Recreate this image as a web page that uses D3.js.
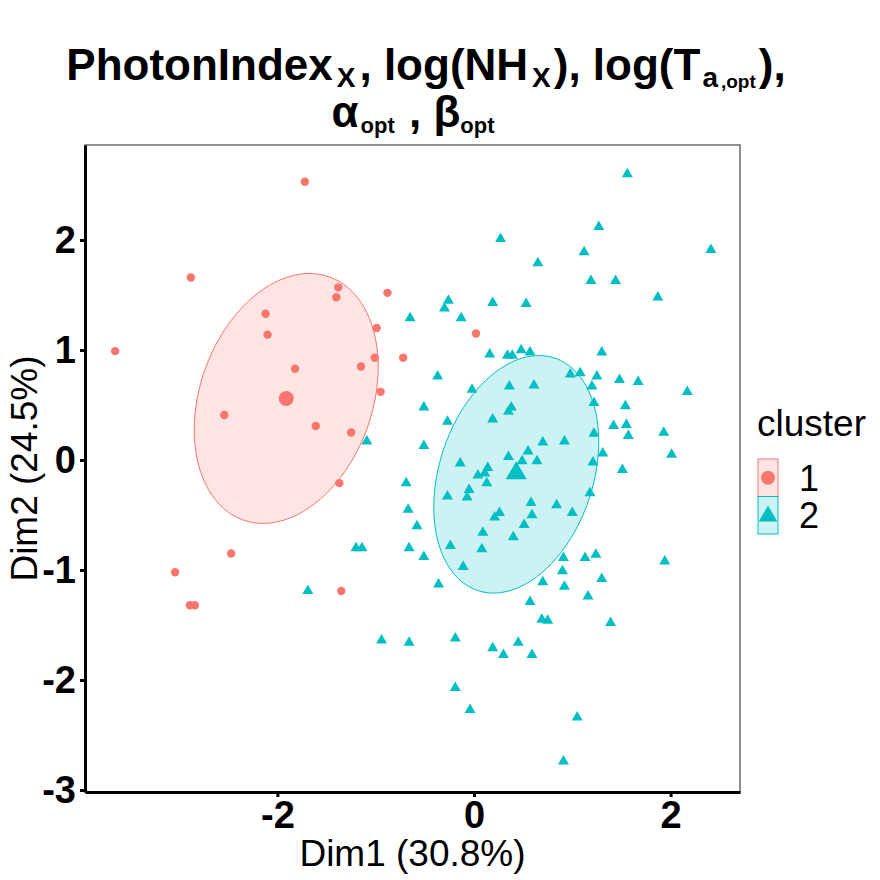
<!doctype html>
<html>
<head>
<script src="https://d3js.org/d3.v7.min.js"></script>
<style>
  body { margin: 0; background: #fff; }
  text { font-family: "Liberation Sans", Arial, Helvetica, sans-serif; }
</style>
</head>
<body>
<svg width="880" height="880"></svg>
<script>
// cluster 1 (red circles), [Dim1, Dim2]
var cluster1 = [
  [-1.72, 2.53], [-2.88, 1.66], [-3.65, 0.99], [-1.38, 1.57], [-1.40, 1.48],
  [-0.88, 1.52], [-2.12, 1.33], [-2.10, 1.14], [-0.99, 1.20], [-1.01, 0.93],
  [-0.72, 0.93], [-1.15, 0.85], [-1.82, 0.83], [-0.95, 0.62], [-2.54, 0.41],
  [-1.61, 0.31], [-1.25, 0.25], [0.02, 1.15], [-1.37, -0.21], [-2.47, -0.85],
  [-3.04, -1.02], [-1.35, -1.19], [-2.89, -1.32], [-2.84, -1.32]
];

// cluster 2 (cyan triangles)
var cluster2 = [
  [1.56, 2.60], [1.27, 2.12], [0.27, 2.01], [2.41, 1.91], [1.12, 1.89],
  [0.65, 1.79], [1.19, 1.63], [1.44, 1.63], [1.87, 1.48], [-0.26, 1.45],
  [-0.30, 1.38], [0.19, 1.43], [0.53, 1.42], [-0.65, 1.29], [-0.13, 1.29],
  [0.16, 0.96], [0.34, 0.95], [0.39, 0.95], [0.48, 1.00], [0.57, 0.98],
  [1.30, 0.98], [-0.37, 0.76], [-0.02, 0.64], [0.36, 0.67], [0.61, 0.68],
  [0.98, 0.78], [1.08, 0.79], [1.25, 0.76], [1.20, 0.67], [1.48, 0.73],
  [1.67, 0.71], [2.17, 0.62], [-0.51, 0.48], [0.38, 0.48], [0.35, 0.44],
  [1.22, 0.52], [1.54, 0.49], [-0.27, 0.35], [0.19, 0.37], [1.42, 0.31],
  [1.55, 0.32], [1.57, 0.22], [1.93, 0.25], [-0.51, 0.13], [0.70, 0.16],
  [0.92, 0.17], [1.22, 0.24], [1.31, 0.06], [2.01, 0.05], [0.55, 0.08],
  [0.35, 0.03], [0.49, -0.01], [0.64, -0.01], [-0.14, -0.03], [0.14, -0.07],
  [1.21, -0.02], [1.51, -0.09], [-1.09, 0.17], [-0.69, -0.21], [-0.67, -0.45],
  [-1.20, -0.80], [-1.14, -0.80], [-0.66, -0.80], [-1.69, -1.19], [-0.94, -1.64],
  [-0.66, -1.66], [0.04, -0.14], [0.11, -0.12], [0.13, -0.21], [-0.05, -0.27],
  [-0.07, -0.34], [-0.27, -0.33], [1.18, -0.30], [0.58, -0.39], [0.84, -0.41],
  [1.00, -0.48], [0.26, -0.48], [0.21, -0.52], [0.59, -0.50], [0.51, -0.59],
  [-0.58, -0.60], [0.09, -0.66], [0.40, -0.70], [-0.24, -0.78], [0.08, -0.81],
  [-0.51, -0.88], [0.91, -0.89], [1.13, -0.89], [1.24, -0.86], [1.94, -0.92],
  [-0.11, -0.97], [0.90, -1.01], [1.30, -1.08], [0.70, -1.11], [0.92, -1.15],
  [-0.36, -1.13], [0.57, -1.29], [1.16, -1.24], [0.69, -1.45], [0.75, -1.46],
  [1.39, -1.48], [-0.19, -1.62], [0.19, -1.71], [0.30, -1.77], [0.45, -1.66],
  [0.59, -1.77], [-0.19, -2.07], [-0.04, -2.27], [1.05, -2.34], [0.91, -2.74]
];

// cluster centres and concentration ellipses (covariance in Dim units)
var centres = [[-1.91, 0.56], [0.43, -0.12]];
var ellipses = [
  { cx: -1.91, cy: 0.56, sxx: 0.876, syy: 1.291, sxy: 0.268 },
  { cx: 0.43, cy: -0.13, sxx: 0.704, syy: 1.166, sxy: 0.250 }
];
var clusterNames = ["1", "2"];
var xTicks = [-2, 0, 2];
var yTicks = [-3, -2, -1, 0, 1, 2];
var colors = ["#F8766D", "#00BFC4"];

var svg = d3.select("svg");
var pLeft = 85, pRight = 740, pTop = 145, pBottom = 792;

var x = d3.scaleLinear().domain([-3.957, 2.706]).range([pLeft, pRight]);
var y = d3.scaleLinear().domain([-3.018, 2.864]).range([pBottom, pTop]);

// panel border
svg.append("rect")
  .attr("x", pLeft).attr("y", pTop)
  .attr("width", pRight - pLeft).attr("height", pBottom - pTop)
  .attr("fill", "none").attr("stroke", "#555").attr("stroke-width", 1.3);

// ellipses
function ellipsePts(e) {
  var l11 = Math.sqrt(e.sxx), l21 = e.sxy / l11, l22 = Math.sqrt(e.syy - l21 * l21);
  return d3.range(0, 101).map(function (i) {
    var t = i / 100 * 2 * Math.PI;
    return [e.cx + l11 * Math.cos(t), e.cy + l21 * Math.cos(t) + l22 * Math.sin(t)];
  });
}
var line = d3.line().x(function (d) { return x(d[0]); }).y(function (d) { return y(d[1]); });

svg.append("g").selectAll("path")
  .data(ellipses)
  .enter().append("path")
  .attr("d", function (d) { return line(ellipsePts(d)) + "Z"; })
  .attr("fill", function (d, i) { return colors[i]; })
  .attr("fill-opacity", 0.2)
  .attr("stroke", function (d, i) { return colors[i]; })
  .attr("stroke-width", 1);

// points
svg.append("g").selectAll("circle")
  .data(cluster1)
  .enter().append("circle")
  .attr("cx", function (d) { return x(d[0]); })
  .attr("cy", function (d) { return y(d[1]); })
  .attr("r", 4.2)
  .attr("fill", colors[0]);

var tri = d3.symbol().type(d3.symbolTriangle).size(52);
svg.append("g").selectAll("path")
  .data(cluster2)
  .enter().append("path")
  .attr("d", tri)
  .attr("transform", function (d) { return "translate(" + x(d[0]) + "," + y(d[1]) + ")"; })
  .attr("fill", colors[1]);

// centres
svg.append("circle")
  .attr("cx", x(centres[0][0])).attr("cy", y(centres[0][1]))
  .attr("r", 7.5).attr("fill", colors[0]);
svg.append("path")
  .attr("d", d3.symbol().type(d3.symbolTriangle).size(190))
  .attr("transform", "translate(" + x(centres[1][0]) + "," + y(centres[1][1]) + ")")
  .attr("fill", colors[1]);

// axes
var xAxis = svg.append("g")
  .attr("transform", "translate(0," + pBottom + ")")
  .call(d3.axisBottom(x).tickValues(xTicks).tickSize(5).tickSizeOuter(0).tickPadding(4));
var yAxis = svg.append("g")
  .attr("transform", "translate(" + pLeft + ",0)")
  .call(d3.axisLeft(y).tickValues(yTicks).tickSize(5).tickSizeOuter(0).tickPadding(4));

[xAxis, yAxis].forEach(function (a) {
  a.select(".domain").attr("stroke", "#000").attr("stroke-width", 3);
  a.selectAll(".tick line").attr("stroke", "#000").attr("stroke-width", 3);
  a.selectAll(".tick text")
    .attr("fill", "#000")
    .style("font-size", "38px")
    .style("font-weight", "bold")
    .style("font-family", "'Liberation Sans', Arial, sans-serif")
    .text(function (d) { return d < 0 ? "-" + Math.abs(d) : d; });
});

// axis titles
svg.append("text")
  .attr("x", (pLeft + pRight) / 2).attr("y", 866)
  .attr("text-anchor", "middle")
  .style("font-size", "37px")
  .text("Dim1 (30.8%)");
svg.append("text")
  .attr("transform", "translate(37," + (pTop + pBottom) / 2 + ")rotate(-90)")
  .attr("text-anchor", "middle")
  .style("font-size", "37px")
  .text("Dim2 (24.5%)");

// title with subscripts: [text, font size, baseline offset, gap before]
function richText(sel, parts) {
  var prev = 0;
  parts.forEach(function (p) {
    sel.append("tspan")
      .attr("dy", p[2] - prev)
      .attr("dx", p[3] || 0)
      .style("font-size", p[1] + "px")
      .text(p[0]);
    prev = p[2];
  });
}
var t1 = svg.append("text")
  .attr("x", 426).attr("y", 80)
  .attr("text-anchor", "middle")
  .style("font-weight", "bold");
richText(t1, [
  ["PhotonIndex", 44, 0], ["X", 28, 7, 4], [",", 44, 0, 4], [" log(NH", 44, 0], ["X", 28, 7, 4],
  ["), log(T", 44, 0, 3], ["a", 28, 7, 2], [",opt", 19, 8, 3], ["),", 44, 0, 3]
]);
var t2 = svg.append("text")
  .attr("x", 413).attr("y", 127)
  .attr("text-anchor", "middle")
  .style("font-weight", "bold");
richText(t2, [
  ["\u03B1", 44, 0], ["opt", 22, 6, 2], [" , \u03B2", 44, 0, 2], ["opt", 22, 6]
]);

// legend
var lg = svg.append("g").attr("transform", "translate(757,0)");
lg.append("text").attr("x", 0).attr("y", 436)
  .style("font-size", "37px").text("cluster");
var keyH = 37.5;
clusterNames.forEach(function (name, i) {
  var ky = 459 + i * keyH;
  lg.append("rect")
    .attr("x", 1).attr("y", ky).attr("width", 20).attr("height", keyH)
    .attr("fill", colors[i]).attr("fill-opacity", 0.2)
    .attr("stroke", colors[i]).attr("stroke-width", 1);
  if (i === 0) {
    lg.append("circle").attr("cx", 11).attr("cy", ky + keyH / 2).attr("r", 7).attr("fill", colors[0]);
  } else {
    lg.append("path")
      .attr("d", d3.symbol().type(d3.symbolTriangle).size(150))
      .attr("transform", "translate(11," + (ky + keyH / 2 + 1) + ")")
      .attr("fill", colors[1]);
  }
  lg.append("text").attr("x", 42).attr("y", ky + keyH / 2 + 13)
    .style("font-size", "36px").text(name);
});
</script>
</body>
</html>
